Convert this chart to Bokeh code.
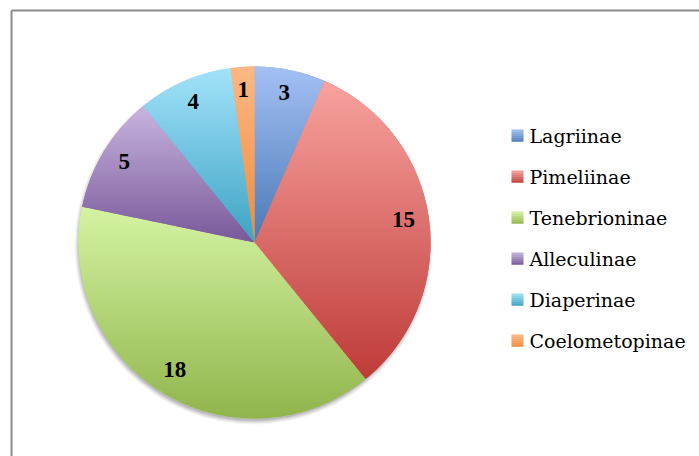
import numpy as np
from bokeh.plotting import figure
from bokeh.models import Range1d
from bokeh.core.properties import value
from bokeh.embed import file_html
from bokeh.resources import INLINE

# ---- data ----
categories = ["Lagriinae", "Pimeliinae", "Tenebrioninae", "Alleculinae", "Diaperinae", "Coelometopinae"]
counts = [3, 15, 18, 5, 4, 1]
top_colors = ["#A4C0F4", "#F8A29E", "#D5F3A2", "#C7B4DF", "#A2E2FA", "#FCB884"]
bottom_colors = ["#4878B6", "#BE3B39", "#91B44C", "#785899", "#3DA3C3", "#EF8A3A"]

# ---- layout (data units == pixels) ----
W, H = 699, 456
CX, CY, R = 254.0, 214.0, 176.0

p = figure(width=W, height=H, x_range=Range1d(0, W), y_range=Range1d(0, H),
           output_backend="svg", toolbar_location=None, min_border=0,
           x_axis_location=None, y_axis_location=None)
p.grid.visible = False
p.outline_line_color = None
p.background_fill_color = "white"
p.border_fill_color = "white"

# chart border (left and top visible)
p.segment(x0=[11, 11], y0=[0, 446], x1=[11, W], y1=[446, 446], line_color="#8a8a8a", line_width=2)


def hex2rgb(h):
    h = h.lstrip("#")
    return np.array([int(h[i:i + 2], 16) for i in (0, 2, 4)], dtype=float)


def rgb2hex(c):
    c = np.clip(np.round(c), 0, 255).astype(int)
    return "#%02x%02x%02x" % tuple(c)


def clip_half(poly, y0, keep_above):
    out = []
    n = len(poly)
    for i in range(n):
        a = poly[i]
        b = poly[(i + 1) % n]
        ina = a[1] >= y0 if keep_above else a[1] <= y0
        inb = b[1] >= y0 if keep_above else b[1] <= y0
        if ina:
            out.append(a)
        if ina != inb:
            t = (y0 - a[1]) / (b[1] - a[1])
            out.append((a[0] + t * (b[0] - a[0]), y0))
    return out


# soft shadow
for k, a in zip([5, 4, 3, 2, 1], [0.04, 0.05, 0.06, 0.07, 0.08]):
    p.circle(x=[CX - 1], y=[CY - 3], radius=R + k - 2, fill_color="#000000",
             fill_alpha=a, line_color=None)

total = float(sum(counts))
cum = np.concatenate([[0], np.cumsum(counts)])
starts = np.pi / 2 - 2 * np.pi * cum[:-1] / total
ends = np.pi / 2 - 2 * np.pi * cum[1:] / total

# base wedges (mid colour)
mid_colors = [rgb2hex((hex2rgb(a) + hex2rgb(b)) / 2) for a, b in zip(top_colors, bottom_colors)]
p.wedge(x=CX, y=CY, radius=R, start_angle=list(starts), end_angle=list(ends),
        direction="clock", fill_color=mid_colors, line_color=None)

# vertical gradient per slice, as horizontal bands
xs, ys, cols = [], [], []
for i in range(len(counts)):
    a0, a1 = starts[i], ends[i]
    n = max(8, int(abs(a1 - a0) * 80))
    th = np.linspace(a0, a1, n)
    poly = [(CX, CY)] + [(CX + R * np.cos(t), CY + R * np.sin(t)) for t in th]
    yv = [q[1] for q in poly]
    ymin, ymax = min(yv), max(yv)
    nb = int(np.ceil((ymax - ymin) / 2.0))
    h = (ymax - ymin) / nb
    ct, cb = hex2rgb(top_colors[i]), hex2rgb(bottom_colors[i])
    for b in range(nb):
        ylo = ymin + b * h - 0.6
        yhi = ymin + (b + 1) * h + 0.6
        pp = clip_half(poly, ylo, True)
        if len(pp) < 3:
            continue
        pp = clip_half(pp, yhi, False)
        if len(pp) < 3:
            continue
        yc = ymin + (b + 0.5) * h
        t = (ymax - yc) / (ymax - ymin)
        xs.append([q[0] for q in pp])
        ys.append([q[1] for q in pp])
        cols.append(rgb2hex(ct + (cb - ct) * t))
p.patches(xs=xs, ys=ys, fill_color=cols, line_color=None)

# data labels
mids = (starts + ends) / 2
lr = 0.86 * R
p.text(x=list(CX + lr * np.cos(mids) - 1), y=list(CY + lr * np.sin(mids) + 2),
       text=[str(c) for c in counts], text_align="center", text_baseline="middle",
       text_font=value("Liberation Serif"), text_font_style="bold",
       text_font_size="23px", text_color="#000000")

# legend
LX, LY0, LDY, S = 517.0, 321.0, 41.0, 12.0
for i, cat in enumerate(categories):
    ly = LY0 - LDY * i
    ct, cb = hex2rgb(top_colors[i]), hex2rgb(bottom_colors[i])
    nb = 6
    for b in range(nb):
        t = (b + 0.5) / nb
        top = ly + S / 2 - b * S / nb
        p.quad(left=[LX - S / 2], right=[LX + S / 2], top=[top], bottom=[top - S / nb - 0.3],
               fill_color=rgb2hex(ct + (cb - ct) * t), line_color=None)
p.text(x=[LX + 12] * len(categories), y=[LY0 - LDY * i for i in range(len(categories))],
       text=categories, text_align="left", text_baseline="middle",
       text_font=value("DejaVu Serif"), text_font_size="19px", text_color="#000000")

open("out.html", "w").write(file_html(p, INLINE))
